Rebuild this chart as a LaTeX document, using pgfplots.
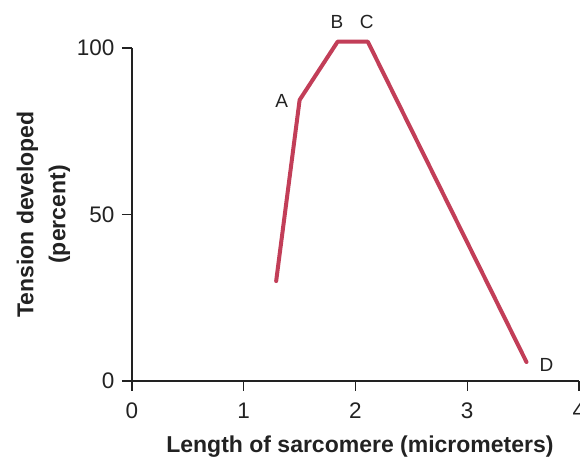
\documentclass[border=0pt]{standalone}
\usepackage{pgfplots}
\pgfplotsset{compat=1.18}
\usepackage{fontspec}
\setmainfont{Liberation Sans}
\definecolor{curve}{RGB}{194,62,88}
\definecolor{axisc}{RGB}{34,34,34}
\begin{document}
\begin{tikzpicture}
\begin{axis}[
  scale only axis,
  width=447pt, height=333pt,
  xmin=0, xmax=4, ymin=0, ymax=100,
  axis x line*=bottom, axis y line*=left,
  axis line style={line width=1.6pt, color=axisc},
  every tick/.style={line width=1.4pt, color=axisc},
  major tick length=10pt,
  tick align=outside,
  xtick={0,1,2,3,4}, ytick={0,50,100},
  /pgf/number format/assume math mode=true,
  ticklabel style={font=\fontsize{22.5}{26}\selectfont, color=axisc},
  xticklabel style={yshift=-8pt},
  yticklabel style={xshift=-4pt},
  xlabel={Length of sarcomere (micrometers)},
  ylabel={Tension developed\\(percent)},
  xlabel style={font=\bfseries\fontsize{23}{28}\selectfont, color=axisc,
    at={(axis description cs:0.51,-0.216)}, anchor=base},
  ylabel style={font=\bfseries\fontsize{23}{32}\selectfont, align=center, color=axisc,
    at={(axis description cs:-0.198,0.5)}, anchor=center},
  clip=false,
]
\addplot[color=curve, line width=4pt, line join=round, line cap=round] coordinates {
  (1.29,30) (1.50,84.4) (1.84,101.9) (2.11,101.9) (3.53,5.7)
};
\node[font=\fontsize{19}{22}\selectfont, color=axisc] at (axis cs:1.34,84.1) {A};
\node[font=\fontsize{19}{22}\selectfont, color=axisc] at (axis cs:1.835,107.8) {B};
\node[font=\fontsize{19}{22}\selectfont, color=axisc] at (axis cs:2.10,107.8) {C};
\node[font=\fontsize{19}{22}\selectfont, color=axisc] at (axis cs:3.71,4.8) {D};
\end{axis}
\pgfresetboundingbox
\path[use as bounding box] ([xshift=-132pt,yshift=-78pt]current axis.south west) rectangle ([xshift=1pt,yshift=48pt]current axis.north east);
\end{tikzpicture}
\end{document}
